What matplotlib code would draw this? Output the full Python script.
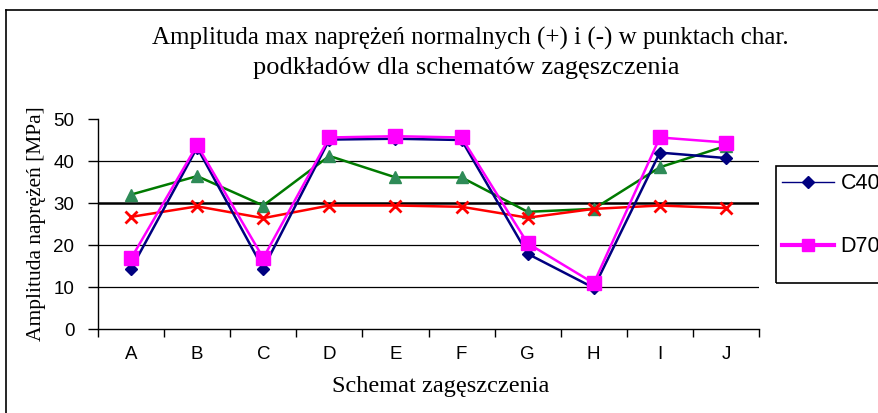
import numpy as np
import matplotlib.pyplot as plt
from matplotlib.lines import Line2D
from matplotlib.patches import Rectangle

categories = ['A', 'B', 'C', 'D', 'E', 'F', 'G', 'H', 'I', 'J']
c40 = [14.3, 43.2, 14.4, 45.1, 45.3, 45.0, 17.9, 9.8, 42.0, 40.7]
d70 = [16.8, 43.8, 16.9, 45.6, 45.9, 45.6, 20.4, 10.9, 45.6, 44.4]
green_vals = [32.0, 36.4, 29.4, 41.2, 36.1, 36.1, 27.9, 28.6, 38.5, 43.6]
red_vals = [26.7, 29.2, 26.4, 29.4, 29.4, 29.1, 26.5, 28.6, 29.4, 28.8]
y_ticks = [0, 10, 20, 30, 40, 50]

serif = 'Liberation Serif'
sans = 'Liberation Sans'

W, H = 879, 413
fig = plt.figure(figsize=(W / 100, H / 100), dpi=100)

# frame around the chart area (right and bottom fall outside the picture)
fig.add_artist(Line2D([6 / W, 1.0], [1 - 10 / H, 1 - 10 / H], color='black', lw=1.2))
fig.add_artist(Line2D([6 / W, 6 / W], [0.0, 1 - 10 / H], color='black', lw=1.2))

ax = fig.add_axes([98 / W, 1 - 329 / H, (759 - 98) / W, (329 - 119) / H])
x = np.arange(len(categories))

for g in [10, 20, 40]:
    ax.axhline(g, color='black', lw=0.9, zorder=1)
ax.axhline(30, color='black', lw=1.8, zorder=1)

ax.plot(x, green_vals, color='#007a00', lw=1.8, marker='^', ms=8,
        mfc='#2e8b57', mec='#2e8b57', zorder=3)
ax.plot(x, red_vals, color='#ff0000', lw=1.8, marker='x', ms=8, mew=2, zorder=3)
ax.plot(x, c40, color='#000080', lw=1.8, marker='D', ms=6, zorder=4)
ax.plot(x, d70, color='#ff00ff', lw=1.8, marker='s', ms=10, zorder=5)

ax.set_xlim(-0.5, len(categories) - 0.5)
ax.set_ylim(0, 50)
ax.set_yticks(y_ticks)
ax.set_yticklabels([str(v) for v in y_ticks], fontfamily=sans, fontsize=13.5)
ax.set_xticks(np.arange(len(categories) + 1) - 0.5)
ax.set_xticklabels([])
ax.set_xticks(x, minor=True)
ax.set_xticklabels(categories, minor=True, fontfamily=sans, fontsize=13.5)
ax.tick_params(axis='x', which='major', direction='out', length=6, width=1)
ax.tick_params(axis='x', which='minor', length=0, pad=12)
ax.tick_params(axis='y', direction='out', length=7, width=1, pad=10)

for s in ['top', 'right']:
    ax.spines[s].set_visible(False)
for s in ['left', 'bottom']:
    ax.spines[s].set_linewidth(1)

ax.set_ylabel('Amplituda naprężeń [MPa]', fontfamily=serif, fontsize=15.5, labelpad=5)
fig.text(441 / W, 1 - 392 / H, 'Schemat zagęszczenia', ha='center', va='baseline',
         fontfamily=serif, fontsize=17.5)

fig.text(470 / W, 1 - 45 / H, 'Amplituda max naprężeń normalnych (+) i (-) w punktach char.',
         ha='center', va='baseline', fontfamily=serif, fontsize=18)
fig.text(466 / W, 1 - 74 / H, 'podkładów dla schematów zagęszczenia',
         ha='center', va='baseline', fontfamily=serif, fontsize=19)

# legend box, clipped by the right edge as in the source
fig.add_artist(Rectangle((776 / W, 1 - 283 / H), 200 / W, (283 - 166) / H,
                         transform=fig.transFigure, fill=False,
                         edgecolor='black', lw=1.2))
handles = [
    Line2D([], [], color='#000080', lw=1, marker='D', ms=6),
    Line2D([], [], color='#ff00ff', lw=3, marker='s', ms=9),
]
fig.legend(handles, ['C40', 'D70'], loc='upper left',
           bbox_to_anchor=(778 / W, 1 - 169 / H), frameon=False,
           borderaxespad=0, borderpad=0.2, labelspacing=1.95,
           handlelength=2.4, handletextpad=0.3,
           prop={'family': sans, 'size': 15.5})

fig.savefig('out.png', dpi=100)
